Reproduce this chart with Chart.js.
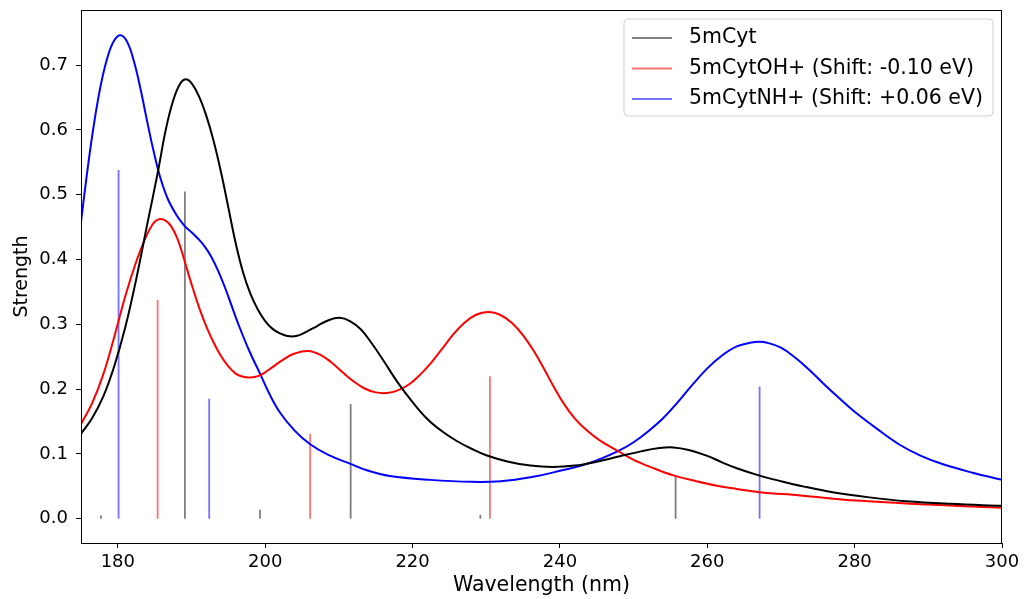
<!DOCTYPE html>
<html>
<head>
<meta charset="utf-8">
<script src="https://cdn.jsdelivr.net/npm/chart.js@4/dist/chart.umd.min.js"></script>
<style>
	html, body { margin: 0; padding: 0; background: #ffffff; }
	#wrap { width: 1024px; height: 599px; }
</style>
</head>
<body>
<div id="wrap"><canvas id="spectrum" width="1024" height="599"></canvas></div>
<script>
// broadened spectra (nm / strength)
const cytNm = [175.0, 176.5, 178.0, 179.5, 181.0, 182.5, 184.0, 185.4, 186.5, 187.5, 188.4, 189.2, 190.0, 191.0, 192.0, 193.0, 194.0, 195.0, 196.0, 197.0, 198.0, 199.0, 200.0, 201.0, 202.0, 203.0, 204.2, 205.5, 207.0, 208.5, 210.1, 211.5, 213.0, 214.5, 216.0, 218.0, 220.0, 222.0, 224.0, 226.0, 228.0, 230.0, 233.0, 236.0, 239.0, 242.0, 245.0, 248.0, 251.0, 253.5, 255.4, 257.5, 260.0, 262.0, 264.0, 267.0, 270.0, 273.0, 277.0, 282.0, 287.0, 293.0, 300.0];
const cytStr = [0.131, 0.155, 0.188, 0.235, 0.295, 0.370, 0.455, 0.533, 0.600, 0.645, 0.670, 0.678, 0.672, 0.652, 0.622, 0.583, 0.535, 0.480, 0.425, 0.380, 0.347, 0.323, 0.305, 0.293, 0.286, 0.282, 0.282, 0.288, 0.297, 0.306, 0.310, 0.305, 0.292, 0.270, 0.245, 0.210, 0.180, 0.154, 0.135, 0.120, 0.108, 0.098, 0.088, 0.082, 0.080, 0.082, 0.088, 0.096, 0.104, 0.109, 0.110, 0.106, 0.097, 0.087, 0.078, 0.067, 0.058, 0.050, 0.041, 0.033, 0.027, 0.023, 0.020];

const ohNm = [175.0, 176.5, 178.0, 179.5, 181.0, 182.5, 183.7, 184.7, 185.5, 186.3, 187.2, 188.1, 189.0, 190.0, 191.0, 192.0, 193.0, 194.0, 195.0, 196.0, 197.0, 198.0, 199.0, 200.0, 201.0, 202.5, 204.0, 205.8, 207.5, 209.0, 210.5, 212.0, 213.5, 215.0, 216.5, 218.0, 219.6, 221.0, 222.4, 224.0, 225.5, 227.0, 228.5, 230.3, 232.0, 233.5, 235.0, 236.5, 238.0, 239.1, 240.5, 242.0, 243.6, 245.4, 248.1, 250.0, 252.5, 255.4, 258.5, 261.3, 264.0, 267.1, 272.6, 280.3, 290.0, 300.0];
const ohStr = [0.146, 0.178, 0.222, 0.280, 0.343, 0.397, 0.432, 0.454, 0.462, 0.461, 0.452, 0.432, 0.400, 0.362, 0.327, 0.297, 0.272, 0.251, 0.235, 0.224, 0.219, 0.218, 0.220, 0.226, 0.234, 0.246, 0.255, 0.259, 0.253, 0.241, 0.226, 0.212, 0.201, 0.195, 0.194, 0.198, 0.208, 0.222, 0.239, 0.262, 0.284, 0.302, 0.314, 0.319, 0.314, 0.302, 0.283, 0.258, 0.228, 0.205, 0.178, 0.155, 0.137, 0.121, 0.103, 0.091, 0.079, 0.067, 0.058, 0.051, 0.046, 0.041, 0.036, 0.028, 0.022, 0.017];

const nhNm = [175.0, 175.9, 176.8, 177.7, 178.6, 179.5, 180.4, 181.3, 182.2, 183.1, 184.0, 184.9, 185.8, 186.8, 188.0, 189.05, 190.0, 190.9, 191.8, 192.7, 193.6, 194.5, 195.4, 196.3, 197.8, 199.3, 200.6, 202.0, 204.0, 206.1, 208.5, 211.5, 214.0, 216.9, 222.4, 228.0, 232.0, 236.0, 240.0, 244.0, 248.0, 250.0, 252.0, 254.0, 256.0, 258.0, 260.0, 262.0, 264.0, 266.0, 267.0, 268.0, 270.0, 272.0, 274.0, 276.0, 278.0, 280.0, 283.0, 286.0, 289.0, 292.0, 296.0, 300.0];
const nhStr = [0.458, 0.540, 0.612, 0.670, 0.712, 0.738, 0.746, 0.735, 0.705, 0.662, 0.612, 0.565, 0.525, 0.493, 0.468, 0.452, 0.442, 0.432, 0.420, 0.404, 0.383, 0.358, 0.330, 0.302, 0.260, 0.224, 0.192, 0.164, 0.136, 0.115, 0.099, 0.085, 0.074, 0.066, 0.060, 0.057, 0.058, 0.064, 0.074, 0.086, 0.105, 0.118, 0.135, 0.155, 0.180, 0.207, 0.232, 0.252, 0.266, 0.272, 0.273, 0.272, 0.264, 0.248, 0.228, 0.206, 0.185, 0.165, 0.139, 0.115, 0.097, 0.084, 0.071, 0.060];

// transitions (sticks)
const cytLines = [177.7, 189.1, 199.3, 211.6, 229.2, 255.7];
const cytOsc = [0.005, 0.505, 0.014, 0.177, 0.006, 0.066];
const ohLines = [185.4, 206.1, 230.5];
const ohOsc = [0.338, 0.131, 0.220];
const nhLines = [180.1, 192.4, 267.1];
const nhOsc = [0.538, 0.185, 0.204];

const labels = ['5mCyt', '5mCytOH+ (Shift: -0.10 eV)', '5mCytNH+ (Shift: +0.06 eV)'];
const xTicks = [180, 200, 220, 240, 260, 280, 300];
const yTicks = [0.0, 0.1, 0.2, 0.3, 0.4, 0.5, 0.6, 0.7];

const FONT = 'DejaVu Sans';

function toPoints(xs, ys) {
	return xs.map(function (x, i) { return { x: x, y: ys[i] }; });
}

function toSticks(xs, ys) {
	let pts = [];
	xs.forEach(function (x, i) {
		pts.push({ x: x, y: 0 });
		pts.push({ x: x, y: ys[i] });
		pts.push({ x: x, y: null });
	});
	return pts;
}

function curve(label, xs, ys, color) {
	return {
		label: label,
		data: toPoints(xs, ys),
		borderColor: color,
		borderWidth: 2,
		pointRadius: 0,
		fill: false,
		tension: 0.4,
		order: 1
	};
}

function sticks(label, xs, ys, color) {
	return {
		label: label,
		data: toSticks(xs, ys),
		borderColor: color,
		borderWidth: 1.8,
		pointRadius: 0,
		fill: false,
		spanGaps: false,
		tension: 0,
		order: 2
	};
}

const stickColors = ['rgba(0,0,0,0.5)', 'rgba(255,0,0,0.55)', 'rgba(0,0,255,0.55)'];

// frame + legend box
const framePlugin = {
	id: 'frame',
	afterDraw: function (chart) {
		const ctx = chart.ctx;
		const a = chart.chartArea;
		ctx.save();
		ctx.strokeStyle = '#000';
		ctx.lineWidth = 1;
		ctx.strokeRect(Math.round(a.left) + 0.5, Math.round(a.top) + 0.5, Math.round(a.right - a.left) - 1, Math.round(a.bottom - a.top));

		// legend
		const bx = 624, by = 19, bw = 369, bh = 97, r = 4;
		ctx.fillStyle = 'rgba(255,255,255,0.8)';
		ctx.strokeStyle = '#d0d0d0';
		ctx.beginPath();
		ctx.moveTo(bx + r, by);
		ctx.arcTo(bx + bw, by, bx + bw, by + bh, r);
		ctx.arcTo(bx + bw, by + bh, bx, by + bh, r);
		ctx.arcTo(bx, by + bh, bx, by, r);
		ctx.arcTo(bx, by, bx + bw, by, r);
		ctx.closePath();
		ctx.fill();
		ctx.stroke();
		ctx.font = '20.5px "' + FONT + '"';
		ctx.textBaseline = 'middle';
		ctx.fillStyle = '#000';
		labels.forEach(function (t, i) {
			const y = 38 + i * 30.5;
			ctx.strokeStyle = stickColors[i];
			ctx.lineWidth = 1.8;
			ctx.beginPath();
			ctx.moveTo(632, y);
			ctx.lineTo(672, y);
			ctx.stroke();
			ctx.fillText(t, 689, y);
		});
		ctx.restore();
	}
};

const ctx = document.getElementById('spectrum').getContext('2d');
const chart = new Chart(ctx, {
	type: 'line',
	data: {
		datasets: [
			curve(labels[0], cytNm, cytStr, '#000000'),
			curve(labels[1], ohNm, ohStr, '#ff0000'),
			curve(labels[2], nhNm, nhStr, '#0000ff'),
			sticks(labels[0], cytLines, cytOsc, stickColors[0]),
			sticks(labels[1], ohLines, ohOsc, stickColors[1]),
			sticks(labels[2], nhLines, nhOsc, stickColors[2])
		]
	},
	options: {
		responsive: false,
		animation: false,
		layout: { padding: { top: 10, right: 22, left: 0, bottom: 0 } },
		plugins: {
			legend: { display: false },
			tooltip: { enabled: false }
		},
		scales: {
			x: {
				type: 'linear',
				min: 175,
				max: 300,
				afterBuildTicks: function (scale) {
					scale.ticks = xTicks.map(function (v) { return { value: v }; });
				},
				afterFit: function (scale) {
					scale.height = 56;
					scale.paddingLeft = 0;
					scale.paddingRight = 0;
				},
				grid: { drawOnChartArea: false, drawTicks: true, tickLength: 5, tickColor: '#000' },
				border: { display: false },
				ticks: {
					font: { family: FONT, size: 18 },
					color: '#000',
					padding: 4,
					maxRotation: 0,
					callback: function (v) { return String(v); }
				},
				title: {
					display: true,
					text: 'Wavelength (nm)',
					font: { family: FONT, size: 20.5 },
					color: '#000',
					padding: { top: 0, bottom: 1 }
				}
			},
			y: {
				type: 'linear',
				min: -0.0374,
				max: 0.785,
				afterBuildTicks: function (scale) {
					scale.ticks = yTicks.map(function (v) { return { value: v }; });
				},
				afterFit: function (scale) {
					scale.width = 81;
					scale.paddingTop = 0;
					scale.paddingBottom = 0;
				},
				grid: { drawOnChartArea: false, drawTicks: true, tickLength: 5, tickColor: '#000' },
				border: { display: false },
				ticks: {
					font: { family: FONT, size: 18 },
					color: '#000',
					padding: 8,
					callback: function (v) { return v.toFixed(1); }
				},
				title: {
					display: true,
					text: 'Strength',
					font: { family: FONT, size: 19 },
					color: '#000',
					padding: { top: 11, bottom: 0 }
				}
			}
		}
	},
	plugins: [framePlugin]
});
</script>
</body>
</html>
